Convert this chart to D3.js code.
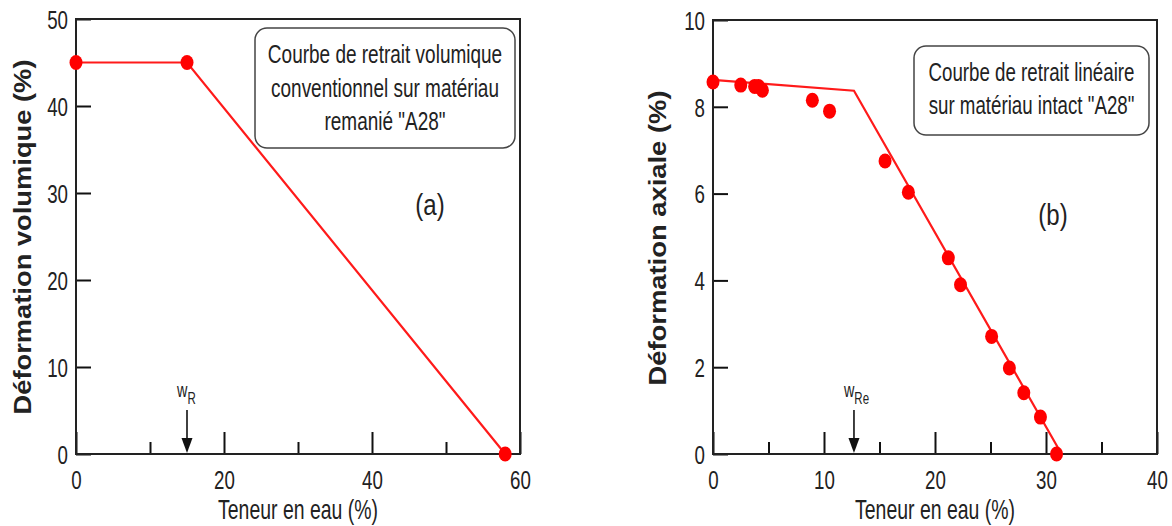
<!DOCTYPE html>
<html>
<head>
<meta charset="utf-8">
<script src="https://cdn.jsdelivr.net/npm/d3@7"></script>
<style>
  body { margin: 0; background: #fff; }
  svg { display: block; }
  .narrow { font-family: 'Liberation Sans Narrow', 'Arial Narrow', 'Liberation Sans', sans-serif; fill: #222; }
  .ytitle { font-family: 'Liberation Sans', Arial, sans-serif; font-weight: bold; fill: #222; }
</style>
</head>
<body>
<svg width="1172" height="526"></svg>
<script>
// ---- data ----

// (a) volumetric shrinkage, remoulded material
var volWater  = [0, 15, 58];
var volStrain = [45, 45, 0];
var volFitX   = [0, 15, 58];
var volFitY   = [45, 45, 0];
var volXTicks = [0, 20, 40, 60];
var volXMinor = [10, 30, 50];
var volYTicks = [0, 10, 20, 30, 40, 50];
var wR = 15;

// (b) linear shrinkage, intact material
var axWater  = [0, 2.5, 3.75, 4.1, 4.45, 8.95, 10.5, 15.5, 17.6, 21.2, 22.3, 25.1, 26.7, 28.0, 29.5, 30.95];
var axStrain = [8.57, 8.5, 8.47, 8.47, 8.38, 8.15, 7.9, 6.75, 6.03, 4.52, 3.9, 2.71, 1.98, 1.41, 0.85, 0.0];
var axFitX   = [0, 12.7, 31.4];
var axFitY   = [8.62, 8.37, 0];
var axXTicks = [0, 10, 20, 30, 40];
var axXMinor = [5, 15, 25, 35];
var axYTicks = [0, 2, 4, 6, 8, 10];
var wRe = 12.7;

var svg = d3.select("svg");
var squeeze = 0.72; // the picture is squashed sideways, so horizontal text looks narrow

// squeeze a text to a measured width
function fit(sel, len) {
    sel.attr("textLength", len).attr("lengthAdjust", "spacingAndGlyphs");
}

// draws one panel: frame, ticks, curve, points, arrow and note box
function drawPanel(p) {
    var x = d3.scaleLinear().domain(p.xDomain).range([p.left, p.right]);
    var y = d3.scaleLinear().domain(p.yDomain).range([p.bottom, p.top]);
    var g = svg.append("g");

    // y ticks point inward
    var yAxis = g.append("g")
        .attr("transform", "translate(" + p.left + ",0)")
        .call(d3.axisLeft(y).tickValues(p.yTicks).tickSize(-15));
    yAxis.select(".domain").remove();
    yAxis.selectAll("line").attr("stroke", "#111").attr("stroke-width", 2);
    yAxis.selectAll("text").attr("class", "narrow").style("font-size", "26px").attr("fill", "#222")
        .attr("x", -8 / squeeze).attr("dy", "0.36em")
        .attr("transform", "scale(" + squeeze + ",1)");

    // x major ticks (long) and minor ticks (short), both pointing up
    var xAxis = g.append("g")
        .attr("transform", "translate(0," + p.bottom + ")")
        .call(d3.axisBottom(x).tickValues(p.xTicks).tickSize(-22));
    xAxis.select(".domain").remove();
    xAxis.selectAll("line").attr("stroke", "#111").attr("stroke-width", 2);
    xAxis.selectAll("text").attr("class", "narrow").style("font-size", "26px").attr("fill", "#222")
        .attr("y", 35).attr("dy", null)
        .attr("transform", "scale(" + squeeze + ",1)");

    var xMinor = g.append("g")
        .attr("transform", "translate(0," + p.bottom + ")")
        .call(d3.axisBottom(x).tickValues(p.xMinor).tickSize(-12).tickFormat(""));
    xMinor.select(".domain").remove();
    xMinor.selectAll("line").attr("stroke", "#111").attr("stroke-width", 2);

    // frame
    g.append("rect")
        .attr("x", p.left).attr("y", p.top)
        .attr("width", p.right - p.left).attr("height", p.bottom - p.top)
        .attr("fill", "none").attr("stroke", "#222").attr("stroke-width", 2);

    // fitted curve
    var line = p.fitX.map(function (d, i) { return [d, p.fitY[i]]; });
    g.append("path")
        .datum(line)
        .attr("d", d3.line().x(function (d) { return x(d[0]); }).y(function (d) { return y(d[1]); }))
        .attr("fill", "none").attr("stroke", "#ff1a1a").attr("stroke-width", 2.2);

    // measured points
    var pts = p.ptsX.map(function (d, i) { return [d, p.ptsY[i]]; });
    g.selectAll(".pt").data(pts).enter().append("ellipse")
        .attr("cx", function (d) { return x(d[0]); })
        .attr("cy", function (d) { return y(d[1]); })
        .attr("rx", 6.5).attr("ry", 7.5)
        .attr("fill", "#ff0000");

    // arrow marking the shrinkage limit
    var ax = x(p.arrowAt);
    g.append("line")
        .attr("x1", ax).attr("x2", ax)
        .attr("y1", p.bottom - 44).attr("y2", p.bottom - 12)
        .attr("stroke", "#111").attr("stroke-width", 1.6);
    g.append("path")
        .attr("d", "M" + (ax - 5.5) + "," + (p.bottom - 16) + "L" + (ax + 5.5) + "," + (p.bottom - 16) + "L" + ax + "," + (p.bottom - 1) + "Z")
        .attr("fill", "#111");
    var lab = g.append("text")
        .attr("class", "narrow")
        .attr("transform", "translate(" + (ax - 10) + "," + (p.bottom - 57) + ") scale(" + squeeze + ",1)")
        .style("font-size", "20px");
    lab.append("tspan").text("w");
    lab.append("tspan").attr("dy", 7).style("font-size", "16px").text(p.arrowSub);

    // note box, lines squeezed by a transform so their real box stays inside
    g.append("rect")
        .attr("x", p.box[0]).attr("y", p.box[1])
        .attr("width", p.box[2]).attr("height", p.box[3])
        .attr("rx", 12).attr("ry", 12)
        .attr("fill", "none").attr("stroke", "#444").attr("stroke-width", 1.5);
    g.selectAll(".note").data(p.note).enter().append("text")
        .attr("class", "narrow")
        .attr("transform", function (d, i) {
            return "translate(" + (p.box[0] + p.box[2] / 2) + "," + p.noteY[i] + ") scale(" + p.noteScale + ",1)";
        })
        .attr("text-anchor", "middle")
        .style("font-size", p.noteSize + "px")
        .text(function (d) { return d; });

    // panel letter
    g.append("text")
        .attr("class", "narrow")
        .attr("transform", "translate(" + p.letterXY[0] + "," + p.letterXY[1] + ") scale(0.8,1)")
        .attr("text-anchor", "middle")
        .style("font-size", "30px")
        .text(p.letter);

    // axis titles
    g.append("text")
        .attr("class", "narrow")
        .attr("transform", "translate(" + p.xTitleX + ",519) scale(" + squeeze + ",1)")
        .attr("text-anchor", "middle")
        .style("font-size", "27px")
        .text("Teneur en eau (%)");
    g.append("text")
        .attr("class", "ytitle")
        .attr("transform", "translate(" + p.yTitleX + "," + p.yTitleY + ") rotate(-90)")
        .attr("text-anchor", "middle")
        .style("font-size", "23px")
        .text(p.yTitle)
        .call(fit, p.yTitleLen);
}

drawPanel({
    left: 76, right: 520, top: 19, bottom: 454,
    xDomain: [0, 60], yDomain: [0, 50],
    xTicks: volXTicks, xMinor: volXMinor, yTicks: volYTicks,
    fitX: volFitX, fitY: volFitY, ptsX: volWater, ptsY: volStrain,
    arrowAt: wR, arrowSub: "R",
    box: [255, 28, 260, 120],
    note: ["Courbe de retrait volumique", "conventionnel sur matériau", "remanié \"A28\""],
    noteY: [63, 97, 130], noteScale: 0.76, noteSize: 25,
    letter: "(a)", letterXY: [430, 215],
    xTitleX: 298, yTitleX: 31, yTitleY: 237, yTitleLen: 355, yTitle: "Déformation volumique (%)"
});

drawPanel({
    left: 713, right: 1157, top: 20, bottom: 454,
    xDomain: [0, 40], yDomain: [0, 10],
    xTicks: axXTicks, xMinor: axXMinor, yTicks: axYTicks,
    fitX: axFitX, fitY: axFitY, ptsX: axWater, ptsY: axStrain,
    arrowAt: wRe, arrowSub: "Re",
    box: [914, 46, 235, 89],
    note: ["Courbe de retrait linéaire", "sur matériau intact \"A28\""],
    noteY: [81, 114], noteScale: 0.72, noteSize: 26,
    letter: "(b)", letterXY: [1053, 225],
    xTitleX: 935, yTitleX: 666, yTitleY: 238, yTitleLen: 295, yTitle: "Déformation axiale (%)"
});
</script>
</body>
</html>
